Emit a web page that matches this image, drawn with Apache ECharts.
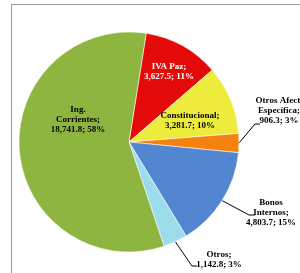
<!DOCTYPE html>
<html>
<head>
<meta charset="utf-8">
<script src="https://cdn.jsdelivr.net/npm/echarts@6/dist/echarts.min.js"></script>
<style>
  html, body { margin: 0; padding: 0; background: #fff; }
  #chart { width: 300px; height: 273px; }
</style>
</head>
<body>
<div id="chart"></div>
<script>
// categories, clockwise from the top
const categories = ["IVA Paz", "Constitucional", "Otros Afect.\nEspecífica", "Bonos\nInternos", "Otros", "Ing.\nCorrientes"];
const values = [3627.5, 3281.7, 906.3, 4803.7, 1142.8, 18741.8];
const colors = ["#E50A0A", "#EDEC3C", "#F5820F", "#5286D0", "#9CDDEB", "#8FB541"];

// where each label sits, and where its leader line ends
const labelSpots = [
  { x: 169, y: 72, color: "#fff" },
  { x: 190, y: 121, color: "#000" },
  { x: 279, y: 111, color: "#000", line: [[255, 124], [260, 124]] },
  { x: 271, y: 213, color: "#000", line: [[249, 215], [255, 215]] },
  { x: 219, y: 260, color: "#000", line: [[192, 266], [197, 266]] },
  { x: 78, y: 120, color: "#000" }
];

const outside = [false, false, true, true, true, false];

function fmt(v) {
  return v.toLocaleString("en-US", { minimumFractionDigits: 1, maximumFractionDigits: 1 });
}

const chart = echarts.init(document.getElementById("chart"));
chart.setOption({
  animation: false,
  graphic: [
    {
      type: "rect",
      shape: { x: 11.5, y: 4.5, width: 400, height: 400 },
      style: { fill: "none", stroke: "#9a9a9a", lineWidth: 1 },
      z: -1
    }
  ],
  series: [
    {
      type: "pie",
      center: [129, 142],
      radius: 110,
      startAngle: 81,
      clockwise: true,
      percentPrecision: 0,
      itemStyle: {
        borderColor: "rgba(255,255,255,0.55)",
        borderWidth: 1
      },
      label: {
        fontFamily: "Liberation Serif",
        fontWeight: "bold",
        fontSize: 9,
        lineHeight: 10,
        align: "center",
        width: 80,
        overflow: "none",
        formatter: p => p.name + ";\n" + fmt(p.value) + "; " + p.percent + "%"
      },
      labelLine: {
        lineStyle: { color: "#000", width: 1 },
        length: 10,
        length2: 8
      },
      labelLayout: function (params) {
        const s = labelSpots[params.dataIndex];
        const out = { x: s.x, y: s.y, align: "center", verticalAlign: "middle" };
        if (s.line && params.labelLinePoints) {
          out.labelLinePoints = [params.labelLinePoints[0], s.line[0], s.line[1]];
        }
        return out;
      },
      data: categories.map((c, i) => ({
        name: c,
        value: values[i],
        itemStyle: { color: colors[i] },
        label: {
          position: outside[i] ? "outside" : "inside",
          color: labelSpots[i].color
        },
        labelLine: { show: outside[i] }
      }))
    }
  ]
});
</script>
</body>
</html>
